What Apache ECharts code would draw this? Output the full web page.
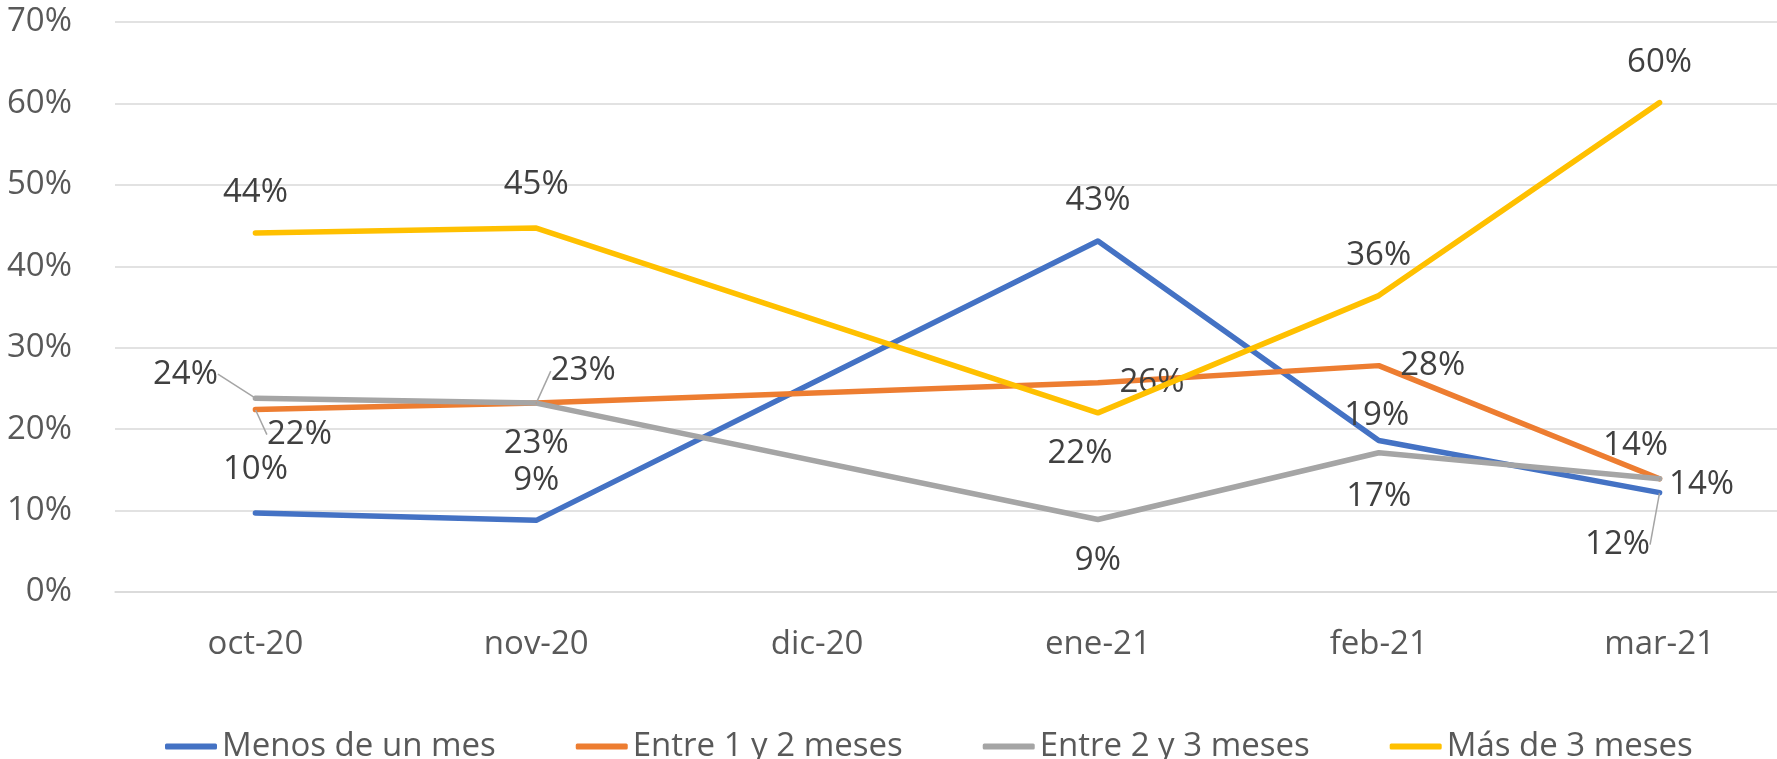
<!DOCTYPE html>
<html>
<head>
<meta charset="utf-8">
<script src="https://cdn.jsdelivr.net/npm/echarts@6/dist/echarts.min.js"></script>
<style>
  html, body { margin: 0; padding: 0; background: #fff; overflow: hidden; }
  /* the plot area runs past the right edge, as in the original */
  #chart { width: 1800px; height: 759px; }
</style>
</head>
<body>
<div id="chart"></div>
<script>
// categorias (dic-20 sin datos)
var months = ["oct-20", "nov-20", "dic-20", "ene-21", "feb-21", "mar-21"];
var seriesNames = ["Menos de un mes", "Entre 1 y 2 meses", "Entre 2 y 3 meses", "Más de 3 meses"];

// valores en %
var menosUnMes = [9.7, 8.8, null, 43.1, 18.6, 12.2];
var entre1y2 = [22.4, 23.2, null, 25.7, 27.8, 13.9];
var entre2y3 = [23.8, 23.2, null, 8.9, 17.1, 13.9];
var masDe3 = [44.1, 44.7, null, 22.0, 36.4, 60.1];

var yTicks = [0, 10, 20, 30, 40, 50, 60, 70];

var colors = ["#4472C4", "#ED7D31", "#A5A5A5", "#FFC000"];

// desplazamiento de etiquetas (estilo, no datos)
var labelOffsets = [
    [[0, -43], [0, -40], [0, 0], [0, -40], [-2, -25], [-42, 52]],
    [[44, 25], [0, 41], [0, 0], [54, 0], [54, 0], [-24, -33]],
    [[-70, -24], [47, -32], [0, 0], [0, 41], [0, 44], [42, 6]],
    [[0, -40], [0, -43], [0, 0], [-18, 41], [0, -40], [0, -40]]
];
// puntos con linea guia
var leaders = [[5], [0], [0, 1], []];

var font = "'Open Sans', sans-serif";
var fs = 33;

function buildSeries(idx, values) {
    return {
        name: seriesNames[idx],
        type: "line",
        connectNulls: true,
        symbol: "circle",
        symbolSize: 1,
        lineStyle: { width: 5.5, color: colors[idx], cap: "round", join: "round" },
        itemStyle: { color: colors[idx] },
        emphasis: { disabled: true },
        z: idx === 3 ? 5 : 2,
        data: values.map(function (v, i) {
            var item = { value: v };
            if (leaders[idx].indexOf(i) >= 0) {
                item.labelLine = { show: true };
            }
            return item;
        }),
        label: {
            show: true,
            position: "inside",
            fontFamily: font,
            fontSize: fs,
            color: "#404040",
            formatter: function (p) {
                return Math.round(p.value) + "%";
            }
        },
        labelLine: {
            show: false,
            lineStyle: { color: "#A5A5A5", width: 1.5 }
        },
        labelLayout: function (p) {
            var o = labelOffsets[idx][p.dataIndex];
            return { dx: o[0], dy: o[1] };
        }
    };
}

var chart = echarts.init(document.getElementById("chart"));
chart.setOption({
    animation: false,
    color: colors,
    grid: { left: 115, right: 0, top: 22, bottom: 167, containLabel: false },
    legend: {
        left: 160,
        top: 725,
        itemWidth: 52,
        itemHeight: 6,
        itemGap: 80,
        icon: "roundRect",
        textStyle: { fontFamily: font, fontSize: fs, color: "#595959" },
        data: seriesNames
    },
    xAxis: {
        type: "category",
        data: months,
        boundaryGap: true,
        axisLine: { show: true, lineStyle: { color: "#D9D9D9", width: 1.5 } },
        axisTick: { show: false },
        axisLabel: { fontFamily: font, fontSize: fs, color: "#595959", margin: 36 }
    },
    yAxis: {
        type: "value",
        min: yTicks[0],
        max: yTicks[yTicks.length - 1],
        interval: 10,
        axisLine: { show: false },
        axisTick: { show: false },
        splitLine: { lineStyle: { color: "#D9D9D9", width: 1.5 } },
        axisLabel: {
            fontFamily: font,
            fontSize: fs,
            color: "#595959",
            margin: 43,
            formatter: "{value}%"
        }
    },
    series: [
        buildSeries(0, menosUnMes),
        buildSeries(1, entre1y2),
        buildSeries(2, entre2y3),
        buildSeries(3, masDe3)
    ]
});
</script>
</body>
</html>
